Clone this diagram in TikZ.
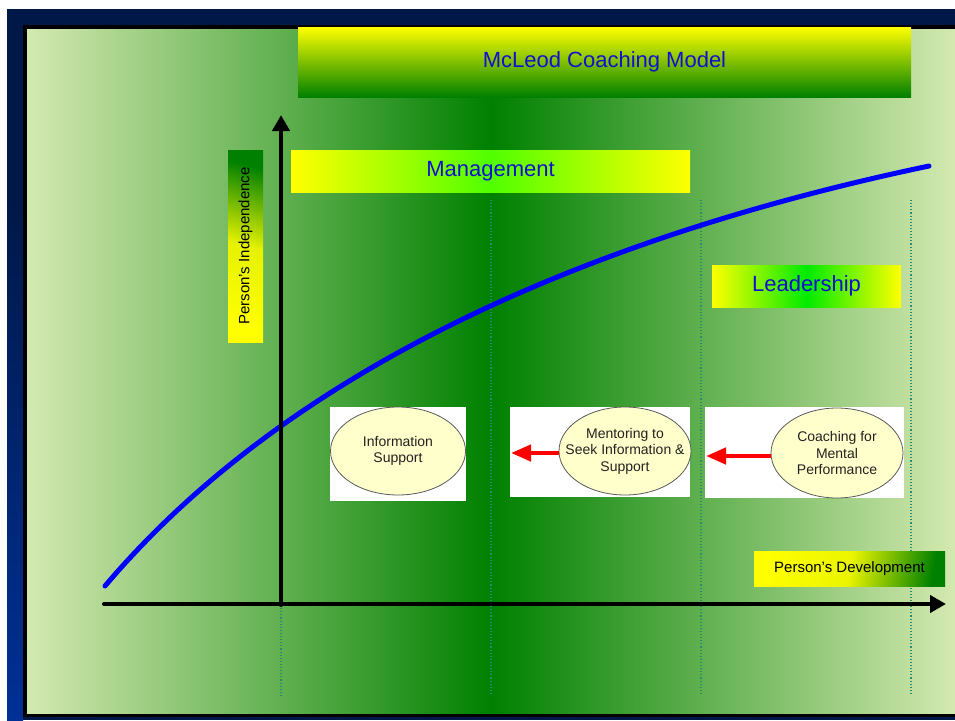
\documentclass[tikz,border=0pt]{standalone}
\usepackage{fontspec}
\setmainfont{Liberation Sans}
\usetikzlibrary{arrows.meta,shapes.geometric}
\definecolor{navy}{RGB}{0,24,72}
\definecolor{navyb}{RGB}{0,48,150}
\definecolor{bglight}{RGB}{212,233,176}
\definecolor{dgreen}{RGB}{0,128,0}
\definecolor{ttblue}{RGB}{16,16,208}
\definecolor{ellfill}{RGB}{255,255,204}
\definecolor{dotc}{RGB}{40,140,110}
\definecolor{brgreen}{RGB}{80,255,0}
\definecolor{ldgreen}{RGB}{0,235,0}
\definecolor{curveblue}{RGB}{0,0,255}
\definecolor{txtgray}{RGB}{34,34,34}
\definecolor{indepmid}{RGB}{230,242,0}
\tikzset{
  bandbox/.style={draw=none, inner sep=0pt, text=ttblue, font=\fontsize{22}{26}\selectfont},
  titlebox/.style={bandbox, minimum width=613pt, minimum height=70pt, top color=yellow, bottom color=dgreen},
  mgmtbox/.style={bandbox, minimum width=399pt, minimum height=42pt, left color=yellow, right color=yellow, middle color=brgreen},
  leadbox/.style={bandbox, minimum width=189pt, minimum height=42pt, left color=yellow, right color=yellow, middle color=ldgreen},
  axislabel/.style={inner sep=0pt, font=\fontsize{15}{18}\selectfont, text=black},
  whitebox/.style={fill=white, draw=none, inner sep=0pt},
  ell/.style={ellipse, draw={rgb,255:red,90;green,90;blue,90}, line width=0.8pt, fill=ellfill, inner sep=0pt},
  elltext/.style={inner sep=0pt, align=center, text=txtgray, font=\fontsize{14}{16.5}\selectfont},
  axisline/.style={line width=4pt, line cap=round, -{Triangle[length=16pt,width=17pt]}},
  redarrow/.style={draw=red, line width=4.5pt, -{Triangle[length=20pt,width=16pt]}},
  dotline/.style={draw=dotc, dotted, line width=1.1pt},
  curve/.style={draw=curveblue, line width=5pt, line cap=round}
}
\begin{document}
\begin{tikzpicture}[x=1pt,y=-1pt]
\useasboundingbox (0,0) rectangle (955,720);
\fill[white] (0,0) rectangle (955,720);
% frame
\fill[navy] (7,9) rectangle (955,720);
\shade[top color=navy, bottom color=navyb] (7,200) rectangle (23,720);
\fill[black] (23,25) rectangle (955,717);
% background gradient
\shade[left color=bglight, right color=dgreen] (27,29) rectangle (491.5,713);
\shade[left color=dgreen, right color=bglight] (491,29) rectangle (955,713);

% dotted guide lines
\coordinate (d1t) at (281,605); \coordinate (d1b) at (281,695);
\coordinate (d2t) at (491,200); \coordinate (d2b) at (491,695);
\coordinate (d3t) at (701,200); \coordinate (d3b) at (701,695);
\coordinate (d4t) at (911,200); \coordinate (d4b) at (911,695);
\draw[dotline] (d1t) -- (d1b);
\draw[dotline] (d2t) -- (d2b);
\draw[dotline] (d3t) -- (d3b);
\draw[dotline] (d4t) -- (d4b);

% curve
\coordinate (cstart) at (105,586);
\coordinate (cend) at (929,166);
\draw[curve] (cstart) .. controls (305,350) and (629,229) .. (cend);

% axes
\coordinate (ybot) at (281,605);
\coordinate (ytop) at (281,115);
\coordinate (xleft) at (104,604);
\coordinate (xright) at (946,604);
\draw[axisline] (ybot) -- (ytop);
\draw[axisline] (xleft) -- (xright);

% title and bands
\node[titlebox] (title) at (604.5,62) {McLeod Coaching Model};
\node[mgmtbox] (mgmt) at (490.5,171) {Management};
\node[leadbox] (lead) at (806.5,286) {Leadership};

% axis labels
\node[inner sep=0pt, minimum width=35pt, minimum height=192pt, bottom color=yellow, top color=dgreen, middle color=indepmid, shading angle=-15] (indepbox) at (245.5,246) {};
\node[axislabel, rotate=90] (indep) at (indepbox.center) {Person’s Independence};
\node[axislabel, minimum width=191pt, minimum height=35pt, left color=yellow, right color=dgreen, middle color={rgb,255:red,235;green,245;blue,0}, shading angle=80] (dev) at (849.5,568.5) {Person’s Development};

% white panels
\node[whitebox, minimum width=136pt, minimum height=94pt] (box1) at (398,454) {};
\node[whitebox, minimum width=180pt, minimum height=90pt] (box2) at (600,452) {};
\node[whitebox, minimum width=199pt, minimum height=91pt] (box3) at (804.5,452.5) {};

% ellipses
\node[ell, minimum width=135pt, minimum height=88pt] (info) at (398,451) {};
\node[ell, minimum width=132pt, minimum height=88pt] (ment) at (625,451) {};
\node[ell, minimum width=132pt, minimum height=90pt] (coach) at (837,453) {};
\node[elltext] (infot) at (info.center) {Information\\Support};
\node[elltext] (mentt) at (ment.center) {Mentoring to\\Seek Information \&\\Support};
\node[elltext] (coacht) at (coach.center) {Coaching for\\Mental\\Performance};

% red arrows
\coordinate (tip1) at (511,453);
\coordinate (tip2) at (706,456);
\draw[redarrow] (ment.west |- tip1) -- (tip1);
\draw[redarrow] (coach.west |- tip2) -- (tip2);
\end{tikzpicture}
\end{document}
